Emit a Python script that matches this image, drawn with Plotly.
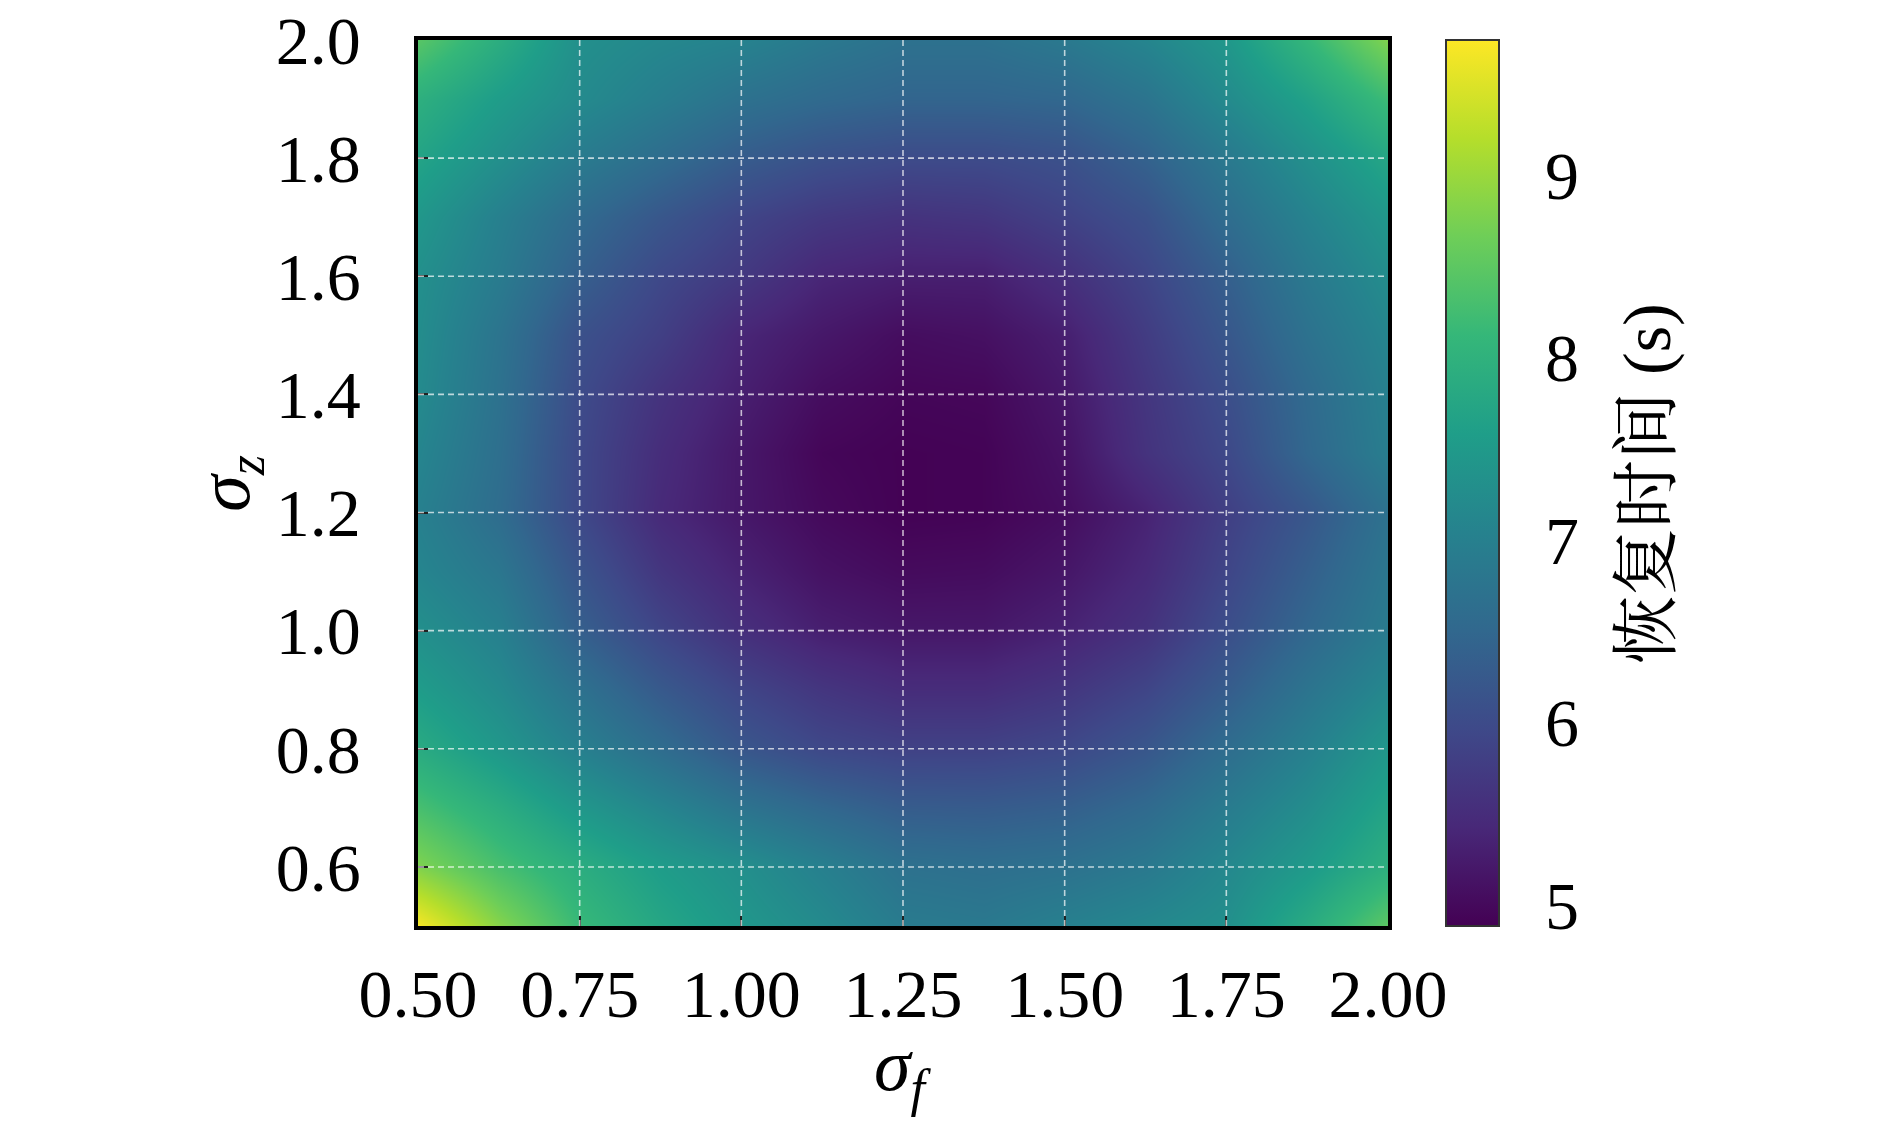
import plotly.graph_objects as go

# sigma_f (x) sample positions and sigma_z (y) sample positions
sigma_f = [0.5, 0.625, 0.75, 0.875, 1.0, 1.125, 1.25, 1.375, 1.5, 1.625, 1.75, 1.875, 2.0]
sigma_z = [0.5, 0.6, 0.7, 0.8, 0.9, 1.0, 1.1, 1.2, 1.3, 1.4, 1.5, 1.6, 1.7, 1.8, 1.9, 2.0]

# recovery time (s), rows follow sigma_z (bottom to top), columns follow sigma_f
row_050 = [9.70, 8.85, 8.15, 7.75, 7.45, 7.20, 6.90, 6.85, 7.00, 7.15, 7.30, 7.85, 8.50]
row_060 = [8.80, 8.30, 7.90, 7.55, 7.30, 7.00, 6.70, 6.65, 6.70, 6.85, 7.15, 7.50, 7.95]
row_070 = [8.30, 7.90, 7.45, 7.10, 6.75, 6.50, 6.30, 6.28, 6.35, 6.55, 6.90, 7.25, 7.70]
row_080 = [7.85, 7.45, 7.00, 6.60, 6.20, 5.95, 5.85, 5.85, 5.95, 6.20, 6.60, 7.00, 7.45]
row_090 = [7.55, 7.20, 6.70, 6.25, 5.90, 5.65, 5.50, 5.50, 5.65, 5.90, 6.30, 6.75, 7.15]
row_100 = [7.30, 7.00, 6.35, 5.90, 5.55, 5.30, 5.20, 5.20, 5.35, 5.60, 6.05, 6.50, 6.90]
row_110 = [7.10, 6.80, 6.15, 5.65, 5.35, 5.12, 5.02, 5.04, 5.18, 5.45, 5.90, 6.35, 6.80]
row_120 = [7.00, 6.60, 5.95, 5.45, 5.20, 5.00, 4.90, 4.92, 5.05, 5.35, 5.80, 6.20, 6.70]
row_130 = [7.10, 6.65, 5.95, 5.50, 5.20, 4.95, 4.90, 4.92, 5.12, 5.60, 5.95, 6.50, 6.95]
row_140 = [7.20, 6.70, 6.00, 5.60, 5.30, 5.05, 4.95, 4.97, 5.20, 5.65, 6.05, 6.55, 7.00]
row_150 = [7.25, 6.75, 6.10, 5.80, 5.40, 5.20, 5.05, 5.10, 5.30, 5.75, 6.20, 6.70, 7.10]
row_160 = [7.30, 6.90, 6.35, 5.95, 5.70, 5.40, 5.30, 5.30, 5.55, 5.90, 6.35, 6.85, 7.25]
row_170 = [7.45, 7.00, 6.55, 6.20, 5.90, 5.70, 5.60, 5.65, 5.85, 6.10, 6.60, 7.05, 7.45]
row_180 = [7.70, 7.30, 6.90, 6.60, 6.30, 6.10, 6.00, 6.00, 6.10, 6.40, 6.85, 7.30, 7.75]
row_190 = [7.95, 7.55, 7.20, 6.95, 6.70, 6.55, 6.45, 6.45, 6.50, 6.75, 7.20, 7.65, 8.20]
row_200 = [8.45, 7.90, 7.30, 7.15, 7.05, 6.85, 6.70, 6.70, 6.85, 7.10, 7.45, 8.10, 8.80]

recovery_time = [row_050, row_060, row_070, row_080, row_090, row_100, row_110, row_120,
                 row_130, row_140, row_150, row_160, row_170, row_180, row_190, row_200]

x_ticks = [0.5, 0.75, 1.0, 1.25, 1.5, 1.75, 2.0]
y_ticks = [0.6, 0.8, 1.0, 1.2, 1.4, 1.6, 1.8, 2.0]
cbar_ticks = [5, 6, 7, 8, 9]
cbar_range = [4.885, 9.74]

x_title = "<i>σ<sub>f</sub></i>"
y_title = "<i>σ<sub>z</sub></i>"
cbar_title = "恢复时间 (s)"

FONT = "Liberation Serif, Noto Serif CJK SC, Noto Sans CJK SC, serif"
FS = 68

fig = go.Figure()
fig.add_trace(go.Heatmap(
    x=sigma_f, y=sigma_z, z=recovery_time,
    colorscale="Viridis", zsmooth="best",
    zmin=cbar_range[0], zmax=cbar_range[1],
    colorbar=dict(
        x=1.0598, xanchor="left", xpad=0, y=0.5, yanchor="middle", ypad=0,
        len=1.0, lenmode="fraction", thickness=53,
        outlinecolor="#333333", outlinewidth=2,
        ticks="outside", ticklen=32, tickwidth=1, tickcolor="rgba(0,0,0,0)",
        tickvals=cbar_ticks,
        tickfont=dict(family=FONT, size=FS, color="black"),
    ),
))

# dashed white grid lines over the image at the tick positions
for xv in x_ticks:
    if 0.5 < xv < 2.0:
        fig.add_shape(type="line", xref="x", yref="paper", x0=xv, x1=xv, y0=0, y1=1,
                      line=dict(color="rgba(255,255,255,0.7)", width=1.6, dash="6px,4px"),
                      layer="above")
for yv in y_ticks:
    if 0.5 < yv < 2.0:
        fig.add_shape(type="line", xref="paper", yref="y", x0=0, x1=1, y0=yv, y1=yv,
                      line=dict(color="rgba(255,255,255,0.7)", width=1.6, dash="6px,4px"),
                      layer="above")

fig.add_annotation(text=x_title, xref="paper", yref="paper", x=0.5, y=-0.163,
                   xanchor="center", yanchor="middle", showarrow=False,
                   font=dict(family=FONT, size=74, color="black"))
fig.add_annotation(text=y_title, xref="paper", yref="paper", x=-0.195, y=0.5,
                   xanchor="center", yanchor="middle", showarrow=False, textangle=-90,
                   font=dict(family=FONT, size=74, color="black"))
fig.add_annotation(text=cbar_title, xref="paper", yref="paper", x=1.267, y=0.5,
                   xanchor="center", yanchor="middle", showarrow=False, textangle=-90,
                   font=dict(family=FONT, size=68, color="black"))

fig.update_layout(
    width=1890, height=1122,
    margin=dict(l=410, r=510, t=32, b=204, autoexpand=False),
    paper_bgcolor="white", plot_bgcolor="white",
    font=dict(family=FONT, size=FS, color="black"),
    xaxis=dict(
        range=[0.5, 2.0], tickvals=x_ticks, tickformat=".2f",
        showgrid=False, zeroline=False,
        showline=True, linecolor="black", linewidth=3.5, mirror=True,
        ticks="inside", ticklen=10, tickwidth=2, tickcolor="#222222",
        layer="above traces", ticklabelstandoff=6, ticklabeloverflow="allow",
        tickfont=dict(family=FONT, size=FS),
    ),
    yaxis=dict(
        range=[0.5, 2.0], tickvals=y_ticks, tickformat=".1f",
        showgrid=False, zeroline=False,
        showline=True, linecolor="black", linewidth=3.5, mirror=True,
        ticks="inside", ticklen=10, tickwidth=2, tickcolor="#222222",
        layer="above traces", ticklabelstandoff=40, ticklabeloverflow="allow",
        tickfont=dict(family=FONT, size=FS),
    ),
)

fig.write_html("out.html")
